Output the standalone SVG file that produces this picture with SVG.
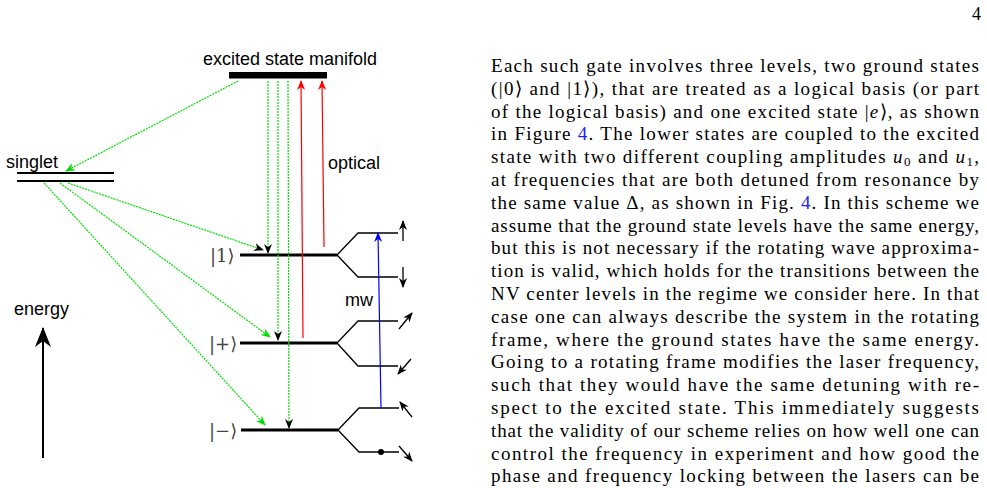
<svg xmlns="http://www.w3.org/2000/svg" width="987" height="488" viewBox="0 0 987 488">
<style>
.sans{font-family:"Liberation Sans",Arial,sans-serif;font-size:18px;fill:#000}
.ket{font-family:"DejaVu Serif","Liberation Serif",serif;font-size:18px;fill:#444}
.p text{font-family:"Liberation Serif",serif;font-size:19px;fill:#000}
.lvl{stroke:#000;stroke-width:3;fill:none}
.br{stroke:#000;stroke-width:1.3;fill:none}
.g{stroke:#00e000;stroke-width:1.2;stroke-dasharray:2 1;fill:none}
.lnk{fill:#2222ee}
</style>
<defs>
<marker id="ab" markerWidth="10" markerHeight="10" refX="9" refY="5" orient="auto" markerUnits="userSpaceOnUse"><path d="M0,1 L10,5 L0,9 L3,5 z" fill="#000"/></marker>
<marker id="ag" markerWidth="10" markerHeight="10" refX="9" refY="5" orient="auto" markerUnits="userSpaceOnUse"><path d="M0,1 L10,5 L0,9 L3,5 z" fill="#00e000"/></marker>
<marker id="ar" markerWidth="10" markerHeight="10" refX="9" refY="5" orient="auto" markerUnits="userSpaceOnUse"><path d="M0,1 L10,5 L0,9 L3,5 z" fill="#f00"/></marker>
<marker id="abl" markerWidth="10" markerHeight="10" refX="9" refY="5" orient="auto" markerUnits="userSpaceOnUse"><path d="M0,1 L10,5 L0,9 L3,5 z" fill="#00f"/></marker>
<marker id="abig" markerWidth="20" markerHeight="20" refX="19" refY="8" orient="auto" markerUnits="userSpaceOnUse"><path d="M0,0 L20,8 L0,16 L6,8 z" fill="#000"/></marker>
</defs>
<rect width="987" height="488" fill="#fff"/>
<text x="972" y="20" font-family="Liberation Serif,serif" font-size="18">4</text>

<g id="excited">
<text x="290" y="65" class="sans" text-anchor="middle">excited state manifold</text>
<rect x="229" y="72" width="98" height="6.5" fill="#000"/>
</g>
<g id="singlet">
<text x="6" y="168" class="sans">singlet</text>
<line x1="17" y1="173" x2="114" y2="173" stroke="#000" stroke-width="2"/>
<line x1="17" y1="181" x2="114" y2="181" stroke="#000" stroke-width="2"/>
</g>
<g id="energy">
<text x="14" y="315" class="sans">energy</text>
<line x1="43" y1="458" x2="43" y2="328" stroke="#000" stroke-width="2" marker-end="url(#abig)"/>
</g>
<g id="level1">
<text x="210" y="262" class="ket">|1⟩</text>
<line x1="240" y1="255" x2="337" y2="255" class="lvl"/>
<path d="M337,255 L358,233 L398,233 M337,255 L358,277 L398,277" class="br"/>
</g>
<g id="levelplus">
<text x="209" y="350" class="ket">|+⟩</text>
<line x1="240" y1="343" x2="337" y2="343" class="lvl"/>
<path d="M337,343 L358,321 L398,321 M337,343 L358,366 L398,366" class="br"/>
</g>
<g id="levelminus">
<text x="209" y="437" class="ket">|−⟩</text>
<line x1="241" y1="430" x2="338" y2="430" class="lvl"/>
<path d="M338,430 L359,408 L399,408 M338,430 L359,452 L399,452" class="br"/>
<circle cx="381" cy="452" r="3" fill="#000"/>
</g>
<g id="labels">
<text x="328" y="169" class="sans">optical</text>
<text x="345" y="306" class="sans">mw</text>
</g>

<g id="connectors">
<line x1="238" y1="81" x2="66" y2="171" class="g" marker-end="url(#ag)"/>
<line x1="68" y1="183" x2="263" y2="250" class="g" marker-end="url(#ab)"/>
<line x1="60" y1="183" x2="270" y2="337" class="g" marker-end="url(#ag)"/>
<line x1="44" y1="183" x2="265" y2="425" class="g" marker-end="url(#ag)"/>
<line x1="268" y1="81" x2="268" y2="253" class="g" marker-end="url(#ab)"/>
<line x1="278" y1="81" x2="278" y2="340" class="g" marker-end="url(#ab)"/>
<line x1="288" y1="81" x2="289" y2="428" class="g" marker-end="url(#ab)"/>
<line x1="303" y1="338" x2="301" y2="81" stroke="#f00" stroke-width="1.2" marker-end="url(#ar)"/>
<line x1="324" y1="247" x2="322" y2="81" stroke="#f00" stroke-width="1.2" marker-end="url(#ar)"/>
<line x1="381" y1="408" x2="378" y2="233" stroke="#00f" stroke-width="1.2" marker-end="url(#abl)"/>
<line x1="403" y1="241" x2="403" y2="221" stroke="#000" stroke-width="1.3" marker-end="url(#ab)"/>
<line x1="403" y1="267" x2="403" y2="287" stroke="#000" stroke-width="1.3" marker-end="url(#ab)"/>
<line x1="399" y1="329" x2="412" y2="313" stroke="#000" stroke-width="1.3" marker-end="url(#ab)"/>
<line x1="411" y1="359" x2="398" y2="374" stroke="#000" stroke-width="1.3" marker-end="url(#ab)"/>
<line x1="412" y1="417" x2="400" y2="402" stroke="#000" stroke-width="1.3" marker-end="url(#ab)"/>
<line x1="399" y1="446" x2="412" y2="461" stroke="#000" stroke-width="1.3" marker-end="url(#ab)"/>
</g>

<g id="paragraph" class="p">
<text x="491" y="72" textLength="488" lengthAdjust="spacing">Each such gate involves three levels, two ground states</text>
<text x="491" y="94.8" textLength="488" lengthAdjust="spacing">(|0⟩ and |1⟩), that are treated as a logical basis (or part</text>
<text x="491" y="117.6" textLength="488" lengthAdjust="spacing">of the logical basis) and one excited state |<tspan font-style="italic">e</tspan>⟩, as shown</text>
<text x="491" y="140.4" textLength="488" lengthAdjust="spacing">in Figure <tspan class="lnk">4</tspan>. The lower states are coupled to the excited</text>
<text x="491" y="163.2" textLength="488" lengthAdjust="spacing">state with two different coupling amplitudes <tspan font-style="italic">u</tspan><tspan font-size="13" dy="3">0</tspan><tspan dy="-3"> and </tspan><tspan font-style="italic">u</tspan><tspan font-size="13" dy="3">1</tspan><tspan dy="-3">,</tspan></text>
<text x="491" y="186" textLength="488" lengthAdjust="spacing">at frequencies that are both detuned from resonance by</text>
<text x="491" y="208.8" textLength="488" lengthAdjust="spacing">the same value Δ, as shown in Fig. <tspan class="lnk">4</tspan>. In this scheme we</text>
<text x="491" y="231.6" textLength="488" lengthAdjust="spacing">assume that the ground state levels have the same energy,</text>
<text x="491" y="254.4" textLength="488" lengthAdjust="spacing">but this is not necessary if the rotating wave approxima-</text>
<text x="491" y="277.2" textLength="488" lengthAdjust="spacing">tion is valid, which holds for the transitions between the</text>
<text x="491" y="300" textLength="488" lengthAdjust="spacing">NV center levels in the regime we consider here. In that</text>
<text x="491" y="322.8" textLength="488" lengthAdjust="spacing">case one can always describe the system in the rotating</text>
<text x="491" y="345.6" textLength="488" lengthAdjust="spacing">frame, where the ground states have the same energy.</text>
<text x="491" y="368.4" textLength="488" lengthAdjust="spacing">Going to a rotating frame modifies the laser frequency,</text>
<text x="491" y="391.2" textLength="488" lengthAdjust="spacing">such that they would have the same detuning with re-</text>
<text x="491" y="414" textLength="488" lengthAdjust="spacing">spect to the excited state.  This immediately suggests</text>
<text x="491" y="436.8" textLength="488" lengthAdjust="spacing">that the validity of our scheme relies on how well one can</text>
<text x="491" y="459.6" textLength="488" lengthAdjust="spacing">control the frequency in experiment and how good the</text>
<text x="491" y="482.4" textLength="488" lengthAdjust="spacing">phase and frequency locking between the lasers can be</text>
</g>
</svg>
